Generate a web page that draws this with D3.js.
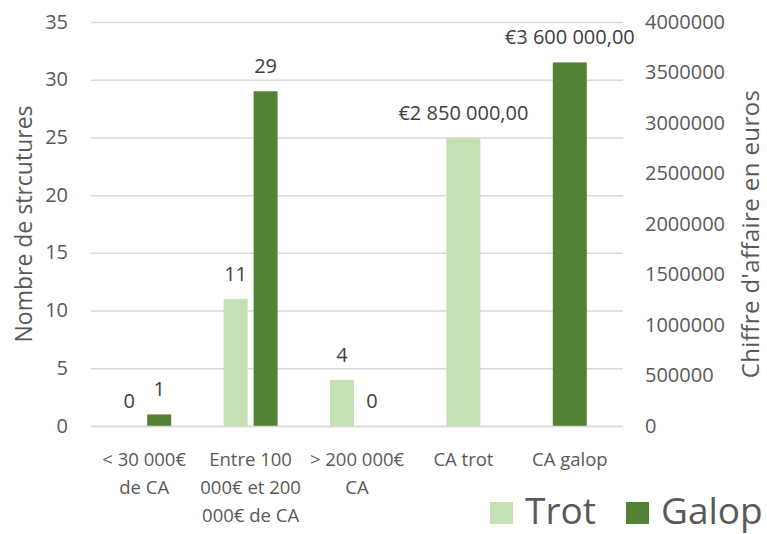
<!DOCTYPE html>
<html lang="fr">
<head>
<meta charset="UTF-8">
<title>Chiffre d'affaire trot / galop</title>
<style>
  body { margin: 0; background: #fff; }
  svg text { font-family: "Open Sans", "DejaVu Sans", sans-serif; }
</style>
</head>
<body>
<script src="https://d3js.org/d3.v7.min.js"></script>
<script>
// categories and values
var categories = ["< 30 000€ de CA", "Entre 100 000€ et 200 000€ de CA", "> 200 000€ CA", "CA trot", "CA galop"];
var tickLabels = [["< 30 000€", "de CA"], ["Entre 100", "000€ et 200", "000€ de CA"], ["> 200 000€", "CA"], ["CA trot"], ["CA galop"]];
var series = ["Trot", "Galop"];
var trotCounts = [0, 11, 4];
var galopCounts = [1, 29, 0];
var caCategories = ["CA trot", "CA galop"];
var caSeries = ["Trot", "Galop"];
var caValues = [2850000, 3600000];
var leftTicks = [0, 5, 10, 15, 20, 25, 30, 35];
var rightTicks = [0, 500000, 1000000, 1500000, 2000000, 2500000, 3000000, 3500000, 4000000];

var W = 767, H = 534;
var plotLeft = 91, plotRight = 623, plotTop = 22, plotBottom = 426;
var colors = { Trot: "#c5e0b4", Galop: "#548235" };

var svg = d3.select("body").append("svg").attr("width", W).attr("height", H);

var x = d3.scaleBand().domain(categories).range([plotLeft, plotRight]);
var xSub = d3.scaleBand().domain(series).range([-27, 27]).paddingInner(0.2);
var yL = d3.scaleLinear().domain([0, 35]).range([plotBottom, plotTop]);
var yR = d3.scaleLinear().domain([0, 4000000]).range([plotBottom, plotTop]);

// gridlines
svg.append("g").selectAll("line")
    .data(leftTicks)
    .enter().append("line")
    .attr("x1", plotLeft).attr("x2", plotRight)
    .attr("y1", function (d) { return yL(d) + 0.5; })
    .attr("y2", function (d) { return yL(d) + 0.5; })
    .attr("stroke", "#d9d9d9")
    .attr("stroke-width", 1.5);

// left axis
var gL = svg.append("g").attr("transform", "translate(" + plotLeft + ",0)")
    .call(d3.axisLeft(yL).tickValues(leftTicks).tickSize(0).tickPadding(23));
gL.select(".domain").remove();
gL.selectAll("text").attr("fill", "#595959").style("font-size", "20px").attr("dy", "0.3em");

// right axis
var gR = svg.append("g").attr("transform", "translate(" + plotRight + ",0)")
    .call(d3.axisRight(yR).tickValues(rightTicks).tickSize(0).tickPadding(22).tickFormat(d3.format("d")));
gR.select(".domain").remove();
gR.selectAll("text").attr("fill", "#595959").style("font-size", "20px").attr("dy", "0.3em");

// count bars
var counts = [];
categories.slice(0, 3).forEach(function (c, i) {
    counts.push({ cat: c, s: "Trot", v: trotCounts[i] });
    counts.push({ cat: c, s: "Galop", v: galopCounts[i] });
});
svg.append("g").selectAll("rect")
    .data(counts)
    .enter().append("rect")
    .attr("x", function (d) { return x(d.cat) + x.bandwidth() / 2 + xSub(d.s); })
    .attr("y", function (d) { return yL(d.v); })
    .attr("width", xSub.bandwidth())
    .attr("height", function (d) { return plotBottom - yL(d.v); })
    .attr("fill", function (d) { return colors[d.s]; });
svg.append("g").selectAll("text")
    .data(counts)
    .enter().append("text")
    .attr("x", function (d) { return x(d.cat) + x.bandwidth() / 2 + xSub(d.s) + xSub.bandwidth() / 2; })
    .attr("y", function (d) { return yL(d.v) - 18; })
    .attr("text-anchor", "middle")
    .attr("fill", "#404040")
    .style("font-size", "20px")
    .text(function (d) { return d.v; });

// CA bars on the secondary axis
var fr = d3.formatLocale({ decimal: ",", thousands: "\u00a0", grouping: [3], currency: ["€", ""] });
var euro = fr.format("$,.2f");
var caW = 34;
var ca = caCategories.map(function (c, i) { return { cat: c, s: caSeries[i], v: caValues[i] }; });
svg.append("g").selectAll("rect")
    .data(ca)
    .enter().append("rect")
    .attr("x", function (d) { return x(d.cat) + x.bandwidth() / 2 - caW / 2; })
    .attr("y", function (d) { return yR(d.v); })
    .attr("width", caW)
    .attr("height", function (d) { return plotBottom - yR(d.v); })
    .attr("fill", function (d) { return colors[d.s]; });
svg.append("g").selectAll("text")
    .data(ca)
    .enter().append("text")
    .attr("x", function (d) { return x(d.cat) + x.bandwidth() / 2; })
    .attr("y", function (d) { return yR(d.v) - 18; })
    .attr("text-anchor", "middle")
    .attr("fill", "#404040")
    .style("font-size", "20px")
    .text(function (d) { return euro(d.v); });

// x axis line
svg.append("line")
    .attr("x1", plotLeft).attr("x2", plotRight)
    .attr("y1", plotBottom + 0.5).attr("y2", plotBottom + 0.5)
    .attr("stroke", "#d9d9d9").attr("stroke-width", 1.5);

// category labels
var xl = svg.append("g").selectAll("text")
    .data(categories)
    .enter().append("text")
    .attr("x", function (d) { return x(d) + x.bandwidth() / 2; })
    .attr("y", 466)
    .attr("text-anchor", "middle")
    .attr("fill", "#595959")
    .style("font-size", "18.5px");
xl.each(function (d, i) {
    var t = d3.select(this);
    tickLabels[i].forEach(function (line, j) {
        t.append("tspan").attr("x", x(d) + x.bandwidth() / 2).attr("dy", j === 0 ? 0 : 28).text(line);
    });
});

// axis titles
svg.append("text")
    .attr("transform", "translate(32,224) rotate(-90)")
    .attr("text-anchor", "middle")
    .attr("fill", "#595959")
    .style("font-size", "23px")
    .text("Nombre de strcutures");
svg.append("text")
    .attr("transform", "translate(759,234) rotate(-90)")
    .attr("text-anchor", "middle")
    .attr("fill", "#595959")
    .style("font-size", "24px")
    .style("letter-spacing", "0.4px")
    .text("Chiffre d'affaire en euros");

// legend
var lg = svg.append("g").selectAll("g")
    .data(series)
    .enter().append("g")
    .attr("transform", function (d, i) { return "translate(" + [490, 626][i] + ",502)"; });
lg.append("rect").attr("width", 23).attr("height", 22).attr("fill", function (d) { return colors[d]; });
lg.append("text")
    .attr("x", 35).attr("y", 22)
    .attr("fill", "#595959")
    .style("font-size", "37px")
    .text(function (d) { return d; });
</script>
</body>
</html>
